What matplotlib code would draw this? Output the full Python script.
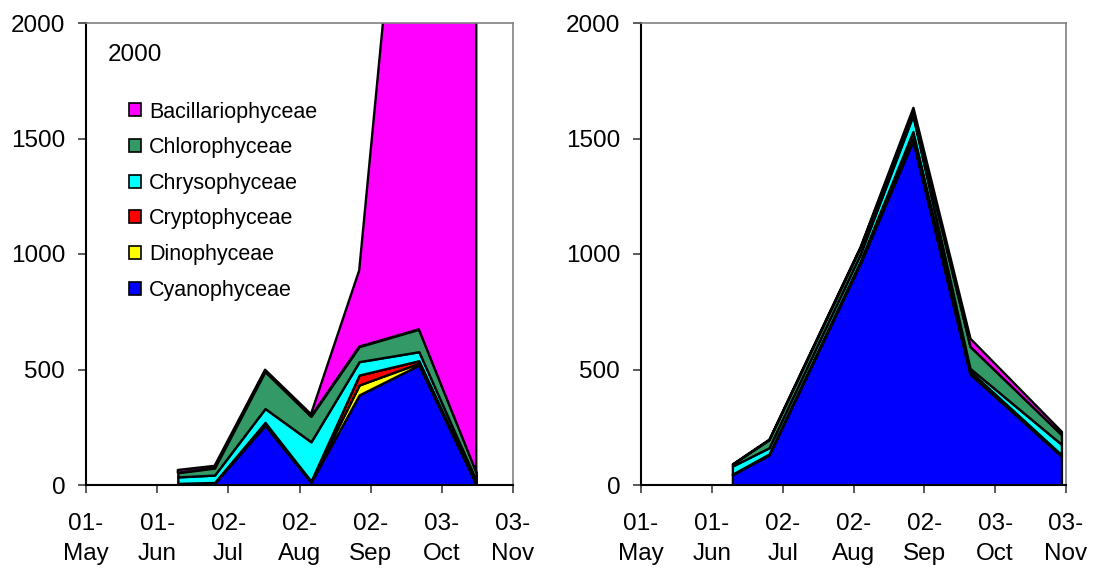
import matplotlib
matplotlib.use("Agg")
import matplotlib.pyplot as plt
from matplotlib.patches import Patch
import pandas as pd

plt.rcParams['font.family'] = ['Liberation Sans', 'DejaVu Sans']

# ---------------- data ----------------
groups = ['Cyanophyceae', 'Dinophyceae', 'Cryptophyceae',
          'Chrysophyceae', 'Chlorophyceae', 'Bacillariophyceae']
colors = ['#0000FF', '#FFFF00', '#FF0000', '#00FFFF', '#339966', '#FF00FF']

dates_left = ['2000-06-10', '2000-06-26', '2000-07-18', '2000-08-07',
              '2000-08-28', '2000-09-23', '2000-10-18']
cyano_left = [5, 8, 258, 12, 390, 519, 3]
dino_left = [0, 1, 10, 3, 43, 8, 1]
crypto_left = [2, 2, 3, 2, 43, 11, 1]
chryso_left = [28, 32, 60, 170, 58, 39, 15]
chloro_left = [18, 30, 160, 110, 65, 97, 35]
bacill_left = [12, 10, 8, 10, 330, 2950, 4000]

dates_right = ['2001-06-10', '2001-06-26', '2001-08-05', '2001-08-28',
               '2001-09-22', '2001-11-01']
cyano_right = [45, 130, 960, 1490, 480, 125]
dino_right = [1, 2, 5, 10, 5, 3]
crypto_right = [1, 2, 5, 30, 8, 3]
chryso_right = [35, 27, 30, 70, 12, 45]
chloro_right = [8, 35, 30, 20, 95, 42]
bacill_right = [2, 3, 5, 15, 35, 14]

year_label = '2000'
y_ticks = [0, 500, 1000, 1500, 2000]

FS_TICK = 17.5
FS_LEG = 15.5

fig = plt.figure(figsize=(10.93, 5.70), dpi=100)
W, H = 1093, 570


def make_ax(x0, x1, y0, y1):
    return fig.add_axes([x0 / W, (H - y1) / H, (x1 - x0) / W, (y1 - y0) / H])


def style(ax, year):
    start = pd.Timestamp(f'{year}-05-01')
    ticks = [start + pd.Timedelta(days=31 * k) for k in range(7)]
    ax.set_xlim(ticks[0], ticks[-1])
    ax.set_ylim(0, 2000)
    ax.set_xticks(ticks)
    ax.set_xticklabels([t.strftime('%d-\n%b') for t in ticks], fontsize=FS_TICK,
                       linespacing=1.5)
    ax.set_yticks(y_ticks)
    ax.set_yticklabels([str(v) for v in y_ticks], fontsize=FS_TICK)
    ax.tick_params(axis='x', direction='out', length=6, width=1.2, pad=14,
                   color='#404040')
    ax.tick_params(axis='y', direction='out', length=6, width=1.2, pad=9,
                   color='#404040')
    for s in ['left', 'bottom']:
        ax.spines[s].set_color('black')
        ax.spines[s].set_linewidth(1.5)
    for s in ['top', 'right']:
        ax.spines[s].set_color('#808080')
        ax.spines[s].set_linewidth(1.2)
    for s in ax.spines.values():
        s.set_zorder(5)


axL = make_ax(86, 513, 23, 485)
axR = make_ax(641, 1066, 23, 485)

xl = pd.to_datetime(dates_left)
axL.stackplot(xl, cyano_left, dino_left, crypto_left, chryso_left,
              chloro_left, bacill_left, colors=colors,
              edgecolor='black', linewidth=1.7)
xr = pd.to_datetime(dates_right)
axR.stackplot(xr, cyano_right, dino_right, crypto_right, chryso_right,
              chloro_right, bacill_right, colors=colors,
              edgecolor='black', linewidth=1.7)

style(axL, 2000)
style(axR, 2001)

axL.text(0.05, 0.93, year_label, transform=axL.transAxes, fontsize=FS_TICK,
         ha='left', va='center')

handles = [Patch(facecolor=c, edgecolor='black', linewidth=1.2, label=g)
           for g, c in zip(groups, colors)][::-1]
leg = axL.legend(handles=handles, loc='upper left',
                 bbox_to_anchor=(0.10, 0.83), frameon=False, fontsize=FS_LEG,
                 handlelength=0.55, handleheight=0.55, handletextpad=0.4,
                 labelspacing=0.68, borderpad=0, borderaxespad=0)

fig.savefig('out.png', dpi=100)
